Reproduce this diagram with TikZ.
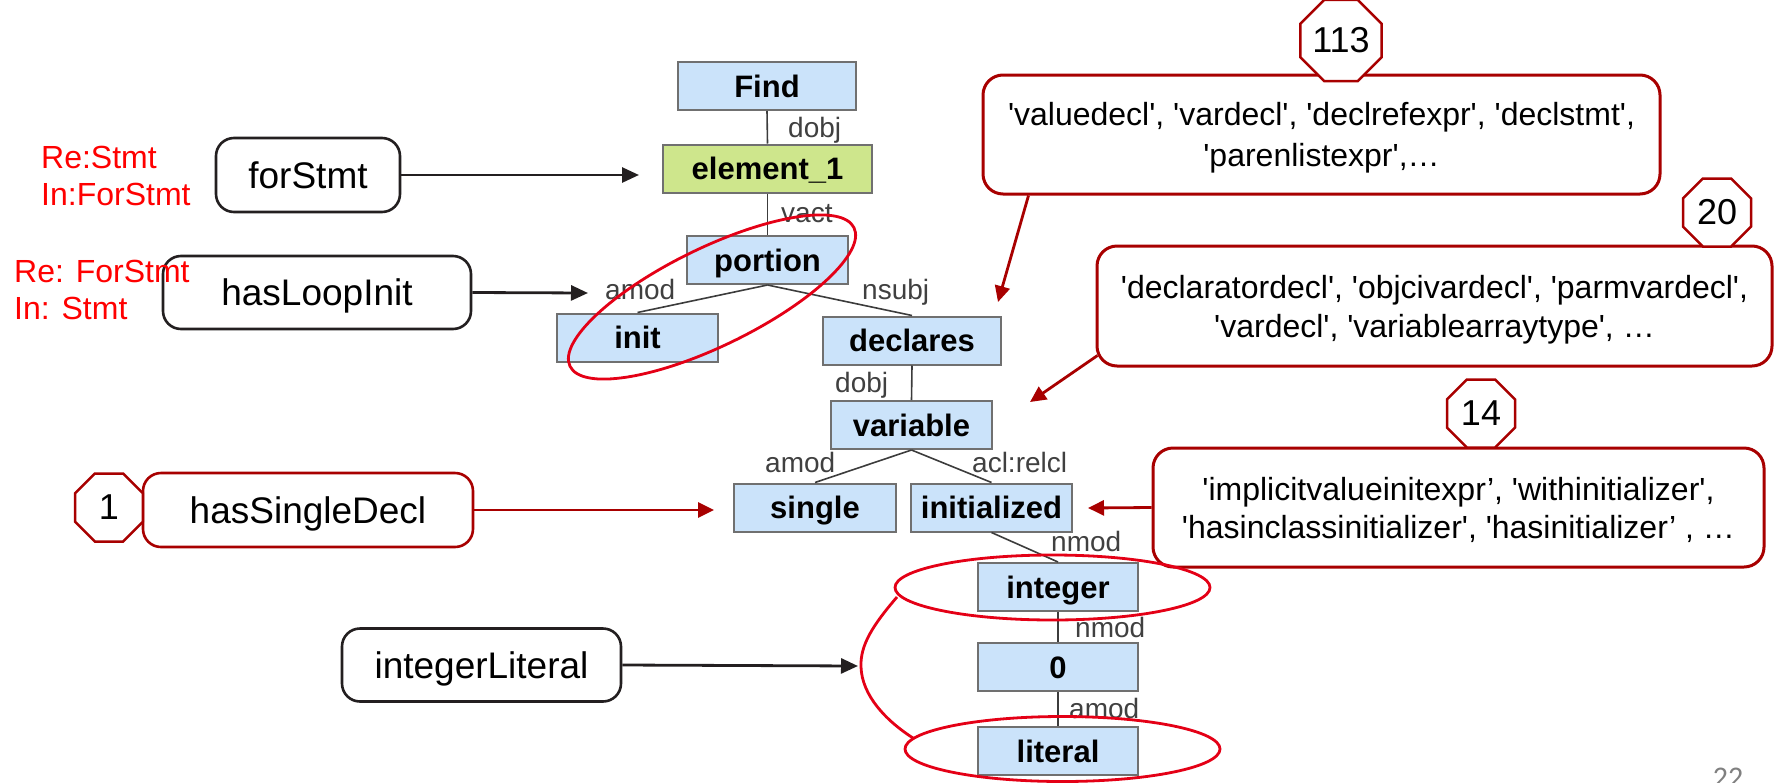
\documentclass[tikz,border=0pt]{standalone}
\usepackage{fontspec}
\setmainfont{Liberation Sans}
\newfontfamily\quotefont{Liberation Sans}
\newfontfamily\foliofont{Carlito}
\usetikzlibrary{arrows.meta,shapes.geometric}

\definecolor{nodeblue}{RGB}{203,227,250}
\definecolor{nodegreen}{RGB}{206,230,140}
\definecolor{nodeedge}{RGB}{112,112,112}
\definecolor{treeline}{RGB}{60,60,60}
\definecolor{deplabel}{RGB}{64,64,64}
\definecolor{darkred}{RGB}{168,0,0}
\definecolor{ringred}{RGB}{228,0,22}
\definecolor{notered}{RGB}{255,0,0}
\definecolor{ink}{RGB}{35,31,32}

\newcommand\tokenfont{\bfseries\fontsize{31}{36}\selectfont}

\begin{document}
\begin{tikzpicture}[x=1pt,y=-1pt,
  tok/.style={draw=nodeedge, line width=2pt, fill=nodeblue, minimum height=48pt,
    inner sep=0pt, text height=22.2pt, text depth=0pt, font=\tokenfont},
  arc/.style={draw=treeline, line width=1.6pt},
  dep/.style={anchor=base west, inner sep=0pt, text=deplabel,
    font=\fontsize{28}{32}\selectfont},
  ext/.style={draw=ink, line width=2.6pt, rounded corners=18pt, fill=white,
    inner sep=0pt, text height=26.5pt, text depth=0pt,
    font=\fontsize{37}{42}\selectfont},
  note/.style={anchor=base west, inner sep=0pt, text=notered,
    font=\fontsize{32}{37}\selectfont},
  callout/.style={draw=darkred, line width=3pt, rounded corners=20pt, fill=white,
    inner sep=0pt, align=center, text depth=0pt},
  count/.style={regular polygon, regular polygon sides=8, draw=darkred,
    line width=2.5pt, fill=white, minimum size=73.6pt, inner sep=0pt,
    font=\fontsize{36}{40}\selectfont},
  blackarrow/.style={draw=ink, line width=2.8pt, -{Triangle[length=17pt,width=15pt]}},
  redarrow/.style={draw=darkred, line width=2.8pt, -{Triangle[length=16pt,width=15pt]}},
  ring/.style={draw=ringred, line width=2.8pt}
]
\useasboundingbox (0,0) rectangle (1774,782);

% ---------- dependency tree ----------
\node[tok, minimum width=178pt] (find) at (767,86) {Find};
\node[tok, fill=nodegreen, minimum width=209pt] (elem) at (767.5,168.5) {element\_1};
\node[tok, minimum width=161pt] (portion) at (767.5,260) {portion};
\node[tok, minimum width=161pt] (init) at (637.5,337.5) {init};
\node[tok, minimum width=178pt] (declares) at (912,340.5) {declares};
\node[tok, minimum width=161pt] (variable) at (911.5,425) {variable};
\node[tok, minimum width=162pt] (single) at (815,507.5) {single};
\node[tok, minimum width=161pt] (initialized) at (991.5,507.5) {initialized};
\node[tok, minimum width=160pt] (integer) at (1058,587) {integer};
\node[tok, minimum width=160pt] (zero) at (1058,667) {0};
\node[tok, minimum width=160pt] (literal) at (1058,751) {literal};

\draw[arc] (find.south) -- (elem.north);
\draw[arc] (elem.south) -- (portion.north);
\draw[arc] (portion.south) -- (init.north);
\draw[arc] (portion.south) -- (declares.north);
\draw[arc] (declares.south) -- (variable.north);
\draw[arc] (variable.south) -- (single.north);
\draw[arc] (variable.south) -- (initialized.north);
\draw[arc] (initialized.south) -- (integer.north);
\draw[arc] (integer.south) -- (zero.north);
\draw[arc] (zero.south) -- (literal.north);

\node[dep] (depA) at (788,137) {dobj};
\node[dep] (depB) at (781,222) {vact};
\node[dep] (depC) at (605,299) {amod};
\node[dep] (depD) at (862,299) {nsubj};
\node[dep] (depE) at (835,392) {dobj};
\node[dep] (depF) at (765,472) {amod};
\node[dep] (depG) at (972,472) {acl:relcl};
\node[dep] (depH) at (1051,551) {nmod};
\node[dep] (depI) at (1075,637) {nmod};
\node[dep] (depJ) at (1069,718) {amod};

% ---------- rule boxes on the left ----------
\node[ext, minimum width=184pt, minimum height=74pt] (forStmt) at (308,175) {forStmt};
\node[ext, minimum width=308pt, minimum height=73pt] (loopInit) at (317,292.5) {hasLoopInit};
\node[ext, draw=darkred, minimum width=330pt, minimum height=74pt] (singleDecl) at (308,510) {hasSingleDecl};
\node[ext, minimum width=279pt, minimum height=73pt] (intLit) at (481.5,665) {integerLiteral};

\node[note] (reA) at (41,168.5) {Re:Stmt};
\node[note] (inA) at (41,205.5) {In:ForStmt};
\node[note] (reB) at (14,282.5) {Re: ForStmt};
\node[note] (inB) at (14,319) {In: Stmt};

% ---------- candidate lists on the right ----------
\node[callout, minimum width=677pt, minimum height=119pt,
  font=\quotefont\fontsize{32}{41}\selectfont] (valueBox) at (1321.5,134.5)
  {'valuedecl', 'vardecl', 'declrefexpr', 'declstmt',\\'parenlistexpr',…};
\node[callout, minimum width=675pt, minimum height=120pt,
  font=\quotefont\fontsize{32}{39}\selectfont] (declBox) at (1434.5,306)
  {'declaratordecl', 'objcivardecl', 'parmvardecl',\\'vardecl', 'variablearraytype', …};
\node[callout, minimum width=611pt, minimum height=119pt,
  font=\quotefont\fontsize{32}{38}\selectfont] (initBox) at (1458.5,507.5)
  {'implicitvalueinitexpr’, 'withinitializer',\\'hasinclassinitializer', 'hasinitializer’ , …};

\node[count] (cntA) at (1341,40.5) {113};
\node[count] (cntB) at (1717,212.5) {20};
\node[count] (cntC) at (1481,413.5) {14};
\node[count] (cntD) at (109,507.5) {1};

% ---------- arrows ----------
\coordinate (tipA) at (639,175);
\coordinate (tipB) at (588,293);
\coordinate (tipC) at (714,510);
\coordinate (tipD) at (858,666);
\coordinate (tipE) at (1088,508);
\coordinate (tipF) at (998,302);
\coordinate (tipG) at (1030,402);

\draw[blackarrow] (forStmt.east) -- (tipA);
\draw[blackarrow] (loopInit.east) -- (tipB);
\draw[redarrow] (singleDecl.east) -- (tipC);
\draw[blackarrow] (intLit.east) -- (tipD);
\draw[redarrow] (initBox.west) -- (tipE);
\draw[redarrow] (valueBox.south west) ++(47,0) -- (tipF);
\draw[redarrow] (declBox.south west) ++(2,-12) -- (tipG);

% ---------- highlighted groups ----------
\draw[ring, rotate around={26:(712,297)}] (712,297) ellipse [x radius=158pt, y radius=49pt];
\draw[ring] (1052.5,587.5) ellipse [x radius=157.5pt, y radius=32.5pt];
\draw[ring] (1062.5,749) ellipse [x radius=157.5pt, y radius=32.5pt];
\draw[ring] (897,597) .. controls (873,625) and (860,645) .. (861,667)
  .. controls (862,695) and (885,720) .. (913,738);

% page number
\node[anchor=base, inner sep=0pt, text=gray, font=\foliofont\fontsize{30}{34}\selectfont]
  (folio) at (1728,787) {22};
\end{tikzpicture}
\end{document}
